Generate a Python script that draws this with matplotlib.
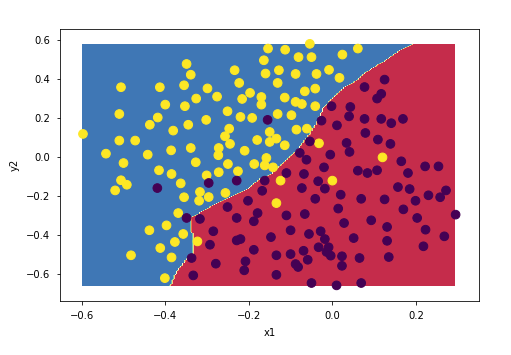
import numpy as np
import matplotlib
matplotlib.use("Agg")
import matplotlib.pyplot as plt
from matplotlib.path import Path

# class 1 points (yellow)
x1_pos = [-0.349, -0.339, -0.506, -0.413, -0.355, -0.299, -0.326, -0.400, -0.353, -0.510,
          -0.418, -0.437, -0.345, -0.302, -0.597, -0.510, -0.472, -0.381, -0.542, -0.442,
          -0.386, -0.339, -0.500, -0.327, -0.415, -0.385, -0.301, -0.506, -0.492, -0.520,
          -0.363, -0.317, -0.355, -0.319, -0.296, -0.369, -0.397, -0.438, -0.357, -0.377,
          -0.323, -0.412, -0.482, -0.385, -0.401,
          -0.054, -0.154, -0.113, 0.024, -0.081, -0.050, -0.164, -0.234, -0.128, -0.160,
          -0.088, -0.038, -0.008, 0.017, -0.223, -0.131, -0.066, -0.041, -0.197, -0.276,
          -0.216, -0.170, -0.170, -0.114, -0.088, -0.073, -0.041, -0.251, -0.131, -0.098,
          -0.220, -0.192, 0.061,
          -0.247, -0.257, -0.150, -0.086, -0.061, -0.245, -0.272, -0.273, -0.210, -0.180,
          -0.150, -0.134, -0.114, -0.158, -0.162, -0.142, -0.187, -0.250, -0.226, -0.272,
          -0.256, -0.124, -0.134, -0.032, 0.000, 0.120]
y2_pos = [0.477, 0.422, 0.358, 0.358, 0.368, 0.352, 0.300, 0.269, 0.261, 0.221,
          0.203, 0.166, 0.166, 0.191, 0.119, 0.085, 0.085, 0.136, 0.018, 0.013,
          0.035, 0.047, -0.030, -0.026, -0.067, -0.086, -0.093, -0.118, -0.141, -0.170,
          -0.134, -0.178, -0.205, -0.223, -0.204, -0.286, -0.349, -0.374, -0.393, -0.434,
          -0.431, -0.465, -0.502, -0.513, -0.619,
          0.580, 0.556, 0.550, 0.525, 0.512, 0.512, 0.496, 0.445, 0.445, 0.428,
          0.426, 0.426, 0.447, 0.406, 0.380, 0.380, 0.337, 0.351, 0.329, 0.310,
          0.298, 0.308, 0.269, 0.305, 0.283, 0.272, 0.261, 0.235, 0.221, 0.215,
          0.206, 0.201, 0.556,
          0.146, 0.107, 0.129, 0.141, 0.146, 0.068, 0.047, 0.010, 0.033, 0.088,
          0.078, 0.095, 0.061, -0.004, -0.042, -0.052, -0.035, -0.035, -0.072, -0.077,
          -0.183, -0.120, -0.235, 0.071, -0.120, -0.001]

# class 0 points (purple)
x1_neg = [-0.419, -0.296, -0.349, -0.317, -0.285, -0.293, -0.337, -0.333, -0.155, -0.002,
          0.043, 0.040, -0.026, 0.125, 0.077, 0.117, 0.107, 0.077, 0.117, 0.141,
          0.169, 0.079, 0.109, 0.139, 0.034, 0.041, 0.165, 0.061, 0.084, 0.107,
          0.181, 0.222, 0.254, 0.157, 0.185, 0.272, 0.230, 0.258, 0.199, 0.069,
          0.125, 0.170, 0.295, 0.203, 0.093, 0.131, 0.223, 0.268, 0.051, 0.131,
          0.218, 0.065, 0.135, 0.069,
          -0.251, 0.014, -0.229, -0.179, -0.188, -0.110, -0.066, 0.028, -0.229, -0.220,
          -0.147, -0.100, -0.056, -0.028, -0.018, -0.188, -0.069, -0.033, -0.009, -0.014,
          -0.004, -0.100, -0.134, -0.059, 0.023, 0.023, -0.279, -0.208, -0.211, -0.088,
          -0.082, -0.134, -0.050, 0.010,
          0.011, -0.054, -0.078, -0.005, -0.062, -0.229, -0.162, -0.110, -0.068, -0.020,
          -0.034, -0.168, -0.073, -0.018, 0.020, -0.202, -0.041]
y2_neg = [-0.158, -0.132, -0.311, -0.316, -0.379, -0.448, -0.516, -0.605, 0.191, 0.261,
          0.257, 0.209, 0.187, 0.397, 0.359, 0.324, 0.300, 0.196, 0.196, 0.174,
          0.196, 0.124, 0.090, 0.068, 0.073, 0.027, -0.021, -0.069, -0.081, -0.067,
          -0.081, -0.047, -0.047, -0.153, -0.163, -0.170, -0.195, -0.205, -0.223, -0.213,
          -0.216, -0.267, -0.294, -0.311, -0.323, -0.357, -0.371, -0.405, -0.414, -0.428,
          -0.456, -0.516, -0.511, -0.644,
          -0.255, -0.263, -0.311, -0.286, -0.328, -0.298, -0.291, -0.337, -0.426, -0.419,
          -0.409, -0.374, -0.393, -0.379, -0.419, -0.474, -0.479, -0.461, -0.461, -0.485,
          -0.504, -0.496, -0.502, -0.525, -0.507, -0.556, -0.545, -0.533, -0.579, -0.547,
          -0.562, -0.602, -0.644, -0.656,
          0.163, 0.081, 0.022, 0.013, -0.013, -0.120, -0.120, -0.081, -0.086, -0.052,
          -0.123, -0.172, -0.158, -0.161, -0.192, -0.223, -0.213]

# decision boundary of the trained classifier (class 0 region lies to the lower right)
boundary_x = [-0.397, -0.375, -0.351, -0.333, -0.333, -0.341, -0.341, -0.317, -0.288, -0.245,
              -0.202, -0.174, -0.146, -0.130, -0.106, -0.082, -0.058, -0.042, -0.034, -0.023,
              0.006, 0.029, 0.053, 0.081, 0.121, 0.161, 0.189, 0.208]
boundary_y = [-0.700, -0.588, -0.521, -0.485, -0.393, -0.382, -0.306, -0.281, -0.245, -0.199,
              -0.158, -0.107, -0.081, -0.047, -0.004, 0.047, 0.115, 0.166, 0.201, 0.252,
              0.320, 0.363, 0.389, 0.440, 0.491, 0.550, 0.576, 0.600]

X1 = np.array(x1_pos + x1_neg)
Y2 = np.array(y2_pos + y2_neg)
labels = np.array([1] * len(x1_pos) + [0] * len(x1_neg))

# grid over the data extent
h = 0.005
xx, yy = np.meshgrid(np.arange(X1.min(), X1.max() + h / 2, h),
                     np.arange(Y2.min(), Y2.max() + h / 2, h))
poly = list(zip(boundary_x, boundary_y)) + [(0.5, 0.7), (0.5, -0.7)]
region0 = Path(poly).contains_points(np.c_[xx.ravel(), yy.ravel()])
Z = np.where(region0, 0, 1).reshape(xx.shape)

fig = plt.figure(figsize=(511 / 72, 355 / 72), dpi=72)
ax = fig.add_axes([60 / 511, 54 / 355, 419 / 511, 272 / 355])
ax.contourf(xx, yy, Z, cmap=plt.cm.Spectral)
ax.scatter(X1, Y2, c=labels, s=75)
ax.set_xlim(-0.652, 0.351)
ax.set_ylim(-0.736, 0.656)
ax.tick_params(pad=6.5)
ax.set_xlabel("x1", labelpad=7)
ax.set_ylabel("y2", labelpad=6)
fig.savefig("out.png", dpi=72)
